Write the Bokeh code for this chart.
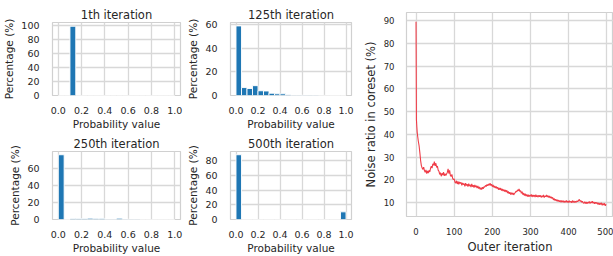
from bokeh.plotting import figure
from bokeh.layouts import row, column
from bokeh.models import Range1d, FixedTicker, PrintfTickFormatter
from bokeh.embed import file_html
from bokeh.resources import INLINE

# ---------------- data ----------------
bin_left = [0.00, 0.05, 0.10, 0.15, 0.20, 0.25, 0.30, 0.35, 0.40, 0.45,
            0.50, 0.55, 0.60, 0.65, 0.70, 0.75, 0.80, 0.85, 0.90, 0.95]
bin_width = 0.05

hist_1th = [0, 0, 99.6, 0, 0, 0, 0, 0, 0, 0,
            0, 0, 0, 0, 0, 0, 0, 0, 0, 0]
hist_125th = [58.7, 6.7, 5.9, 8.3, 4.0, 3.8, 1.9, 1.4, 1.4, 0.7,
              0.3, 0.3, 0.2, 0.3, 0.2, 0.1, 0.1, 0.0, 0.0, 0.0]
hist_250th = [75.5, 0.0, 1.2, 1.2, 1.2, 1.5, 1.3, 1.3, 0.4, 0.4,
              1.5, 0.4, 0.3, 0.3, 0.0, 0.0, 0.0, 0.0, 0.0, 0.0]
hist_500th = [88.0, 0, 0, 0, 0, 0, 0, 0, 0, 0,
              0, 0, 0, 0, 0, 0, 0, 0, 0, 10.4]

hist_titles = ["1th iteration", "125th iteration", "250th iteration", "500th iteration"]
hist_ymax = [105, 61.6, 79.3, 92.4]
hist_yticks = [[0, 20, 40, 60, 80, 100], [0, 20, 40, 60], [0, 20, 40, 60], [0, 20, 40, 60, 80]]
prob_ticks = [0.0, 0.2, 0.4, 0.6, 0.8, 1.0]

# outer iteration index: every iteration at the start, then every 2nd one
outer_iter = [0, 1, 2, 3, 4, 6, 8, 10, 12, 14, 16, 18] + list(range(20, 500, 2))
noise_ratio = [
    89.5, 46.5, 43.5, 41.0, 39.5, 37.0, 35.0, 32.0, 28.5, 26.3, 25.2, 24.6,
    25.6, 24.1, 23.3, 24.4, 22.8, 23.9, 23.0, 24.2, 23.5, 25.1,
    26.0, 25.2, 27.1, 26.4, 28.0, 26.2, 27.3, 25.5, 26.1, 24.3,
    23.8, 22.4, 23.2, 21.6, 22.9, 22.1, 23.4, 21.8, 22.7, 21.9,
    22.6, 23.3, 24.9, 22.8, 24.2, 22.0, 21.5, 22.4, 20.6, 20.1,
    20.4, 19.0, 18.6, 19.6, 18.2, 19.3, 18.0, 19.1, 18.4, 18.9,
    17.6, 18.7, 17.9, 18.4, 17.2, 18.6, 17.5, 18.1, 17.0, 18.3,
    17.3, 17.9, 16.8, 18.2, 17.0, 17.7, 16.6, 17.8, 16.9, 17.4,
    16.4, 17.3, 16.2, 16.9, 15.8, 16.6, 15.7, 16.8, 16.1, 17.0,
    16.8, 17.6, 17.1, 18.0, 17.4, 18.2, 17.6, 18.6, 17.5, 18.1,
    17.0, 17.8, 16.7, 17.3, 16.4, 17.1, 16.2, 16.8, 15.7, 16.5,
    15.6, 16.4, 15.3, 16.0, 15.1, 15.8, 14.9, 15.6, 14.7, 15.4,
    14.2, 14.9, 13.9, 14.6, 13.5, 14.4, 13.6, 14.3, 13.4, 14.1,
    14.4, 15.0, 14.8, 15.6, 15.2, 16.0, 14.9, 15.3, 14.1, 14.8,
    13.5, 14.2, 13.1, 13.9, 12.9, 13.6, 12.7, 13.5, 12.6, 13.3,
    12.8, 13.6, 12.5, 13.4, 12.7, 13.3, 12.4, 13.5, 12.6, 13.1,
    12.4, 13.3, 12.6, 13.2, 12.3, 13.0, 12.5, 13.4, 12.2, 12.9,
    12.6, 13.4, 12.5, 13.1, 12.2, 12.9, 12.0, 12.6, 11.8, 12.3,
    11.2, 11.8, 10.9, 11.5, 10.7, 11.3, 10.5, 11.1, 10.4, 10.9,
    10.2, 10.9, 10.3, 10.8, 10.0, 10.7, 10.2, 11.0, 10.1, 10.7,
    10.0, 10.8, 10.2, 10.6, 9.9, 10.9, 10.1, 10.7, 10.0, 10.6,
    10.2, 10.8, 10.4, 11.0, 11.4, 10.6, 10.9, 10.2, 10.6, 9.9,
    9.7, 10.4, 9.6, 10.3, 9.5, 10.2, 9.8, 10.5, 9.6, 10.3,
    9.9, 10.6, 9.7, 10.3, 9.5, 10.2, 9.6, 10.1, 9.3, 9.9,
    9.1, 9.8, 9.2, 9.9, 8.8, 9.6, 8.9, 9.7, 8.6, 9.3,
]
noise_yticks = [10, 20, 30, 40, 50, 60, 70, 80, 90]
iter_ticks = [0, 100, 200, 300, 400, 500]

# ---------------- style ----------------
FONT = "DejaVu Sans"
TEXT = "#262626"
GRID = "#d8d8d8"
BAR = "#1f77b4"
LINE = "#ef3d48"


def style(p, tick_size, label_size):
    p.outline_line_color = "#d0d0d0"
    p.outline_line_width = 1.2
    p.background_fill_color = "white"
    p.border_fill_color = "white"
    for ax in (p.xaxis[0], p.yaxis[0]):
        ax.axis_line_color = None
        ax.major_tick_line_color = None
        ax.minor_tick_line_color = None
        ax.major_label_text_font = FONT
        ax.major_label_text_font_size = tick_size
        ax.major_label_text_color = TEXT
        ax.axis_label_text_font = FONT
        ax.axis_label_text_font_size = label_size
        ax.axis_label_text_font_style = "normal"
        ax.axis_label_text_color = TEXT
    p.xaxis.major_label_standoff = 5
    p.xaxis.axis_label_standoff = 1
    p.yaxis.major_label_standoff = 7
    p.yaxis.axis_label_standoff = 3
    for g in (p.xgrid[0], p.ygrid[0]):
        g.grid_line_color = GRID
        g.grid_line_width = 1.3


def hist_fig(k, values, width, height, left_border, right_border, top_border, bottom_border):
    p = figure(width=width, height=height, output_backend="svg", toolbar_location=None,
               x_range=Range1d(-0.05, 1.05), y_range=Range1d(0, hist_ymax[k]),
               min_border_left=left_border, min_border_right=right_border,
               min_border_top=top_border, min_border_bottom=bottom_border,
               title=hist_titles[k])
    centers = [b + bin_width / 2 for b in bin_left]
    p.vbar(x=centers, top=values, width=bin_width, bottom=0,
           fill_color=BAR, line_color="white", line_width=0.9)
    p.xaxis.ticker = FixedTicker(ticks=prob_ticks)
    p.xaxis.formatter = PrintfTickFormatter(format="%.1f")
    p.yaxis.ticker = FixedTicker(ticks=hist_yticks[k])
    p.xaxis.axis_label = "Probability value"
    p.yaxis.axis_label = "Percentage (%)"
    style(p, "9.5px", "10.5px")
    p.title.text_font = FONT
    p.title.text_font_size = "11.5px"
    p.title.text_font_style = "normal"
    p.title.text_color = TEXT
    p.title.align = "center"
    p.title.standoff = 2
    p.title.offset = 0
    return p


f1 = hist_fig(0, hist_1th, 184, 132, 52, 4, 22, 33)
f2 = hist_fig(1, hist_125th, 176, 132, 39, 9, 22, 33)
f3 = hist_fig(2, hist_250th, 184, 124, 52, 4, 19, 27)
f4 = hist_fig(3, hist_500th, 176, 124, 39, 9, 19, 27)

f5 = figure(width=253, height=256, output_backend="svg", toolbar_location=None,
            x_range=Range1d(-25, 517.5), y_range=Range1d(3.9, 93.6),
            min_border_left=36, min_border_right=0, min_border_top=12, min_border_bottom=26)
f5.line(outer_iter, noise_ratio, line_color=LINE, line_width=1.1)
f5.xaxis.ticker = FixedTicker(ticks=iter_ticks)
f5.yaxis.ticker = FixedTicker(ticks=noise_yticks)
f5.xaxis.axis_label = "Outer iteration"
f5.yaxis.axis_label = "Noise ratio in coreset (%)"
style(f5, "8.5px", "11.5px")
f5.xaxis.major_label_standoff = 5
f5.xaxis.axis_label_standoff = 2
f5.yaxis.major_label_standoff = 6

left = column(row(f1, f2, spacing=0), row(f3, f4, spacing=0), spacing=0)
layout = row(left, f5, spacing=0)

open("out.html", "w").write(file_html(layout, INLINE))
